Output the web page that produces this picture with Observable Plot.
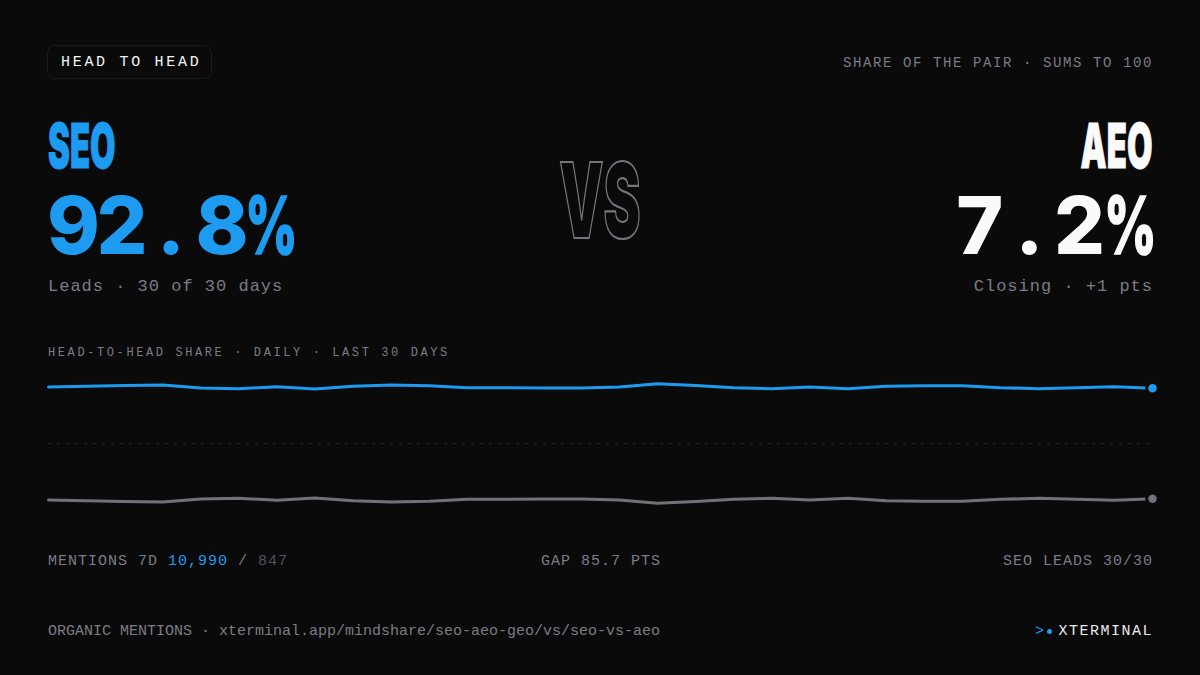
<!DOCTYPE html>
<html><head><meta charset="utf-8">
<script src="https://cdn.jsdelivr.net/npm/d3@7"></script>
<script src="https://cdn.jsdelivr.net/npm/@observablehq/plot@0.6"></script>
<style>
html,body{margin:0;padding:0;background:#0a0a0b;}
#page{position:relative;width:1200px;height:675px;overflow:hidden;background:#0a0a0b;font-family:"Liberation Mono",monospace;color:#7c7c84;}
.t{position:absolute;white-space:pre;line-height:1;}
.r{text-align:right;}
.disp{font-family:Inter,sans-serif;font-weight:900;}
.big{font-family:Inter,sans-serif;font-weight:800;font-size:80px;}
.big span{display:inline-block;width:49.5px;text-align:center;}
.big span.p{width:74px;margin-right:-24.5px;text-align:left;transform:scaleX(.64);transform-origin:0 50%;-webkit-text-stroke:1.6px currentColor;}
#chart{position:absolute;left:40px;top:368px;}
#chart svg{background:transparent;display:block;}
</style></head><body>
<div id="page">
  <div style="position:absolute;left:47px;top:45px;width:163px;height:32px;border:1.5px solid #1b1b1e;border-radius:8px;"></div>
  <div class="t" style="left:61px;top:55px;font-size:15px;letter-spacing:2.7px;color:#f5f5f5;">HEAD TO HEAD</div>
  <div class="t r" style="right:47px;top:56px;font-size:14px;letter-spacing:1.6px;">SHARE OF THE PAIR · SUMS TO 100</div>

  <div class="t disp" style="left:48px;top:115px;font-size:62px;color:#1d9bf0;transform:scaleX(.53);transform-origin:0 0;-webkit-text-stroke:1px #1d9bf0;">SEO</div>
  <div class="t big" style="left:47px;top:185px;color:#1d9bf0;"><span>9</span><span>2</span><span>.</span><span>8</span><span class="p">%</span></div>
  <div class="t" style="left:48px;top:278px;font-size:17px;letter-spacing:1px;">Leads · 30 of 30 days</div>

  <div class="t disp" style="left:600px;top:147px;font-size:105px;color:transparent;-webkit-text-stroke:2.2px #74777e;transform:translateX(-50%) scaleX(.53);">VS</div>

  <div class="t disp r" style="right:48px;top:115px;font-size:62px;color:#fafafa;transform:scaleX(.53);transform-origin:100% 0;-webkit-text-stroke:1px #fafafa;">AEO</div>
  <div class="t big r" style="right:47px;top:185px;color:#fafafa;"><span>7</span><span>.</span><span>2</span><span class="p">%</span></div>
  <div class="t r" style="right:47px;top:278px;font-size:17px;letter-spacing:1px;">Closing · +1 pts</div>

  <div class="t" style="left:48px;top:347px;font-size:12px;letter-spacing:2.6px;">HEAD-TO-HEAD SHARE · DAILY · LAST 30 DAYS</div>
  <div id="chart"></div>

  <div class="t" style="left:48px;top:554px;font-size:15px;letter-spacing:1px;">MENTIONS 7D <span style="color:#1d9bf0">10,990</span> / <span style="color:#52525b">847</span></div>
  <div class="t" style="left:541px;top:554px;font-size:15px;letter-spacing:1px;">GAP 85.7 PTS</div>
  <div class="t r" style="right:47px;top:554px;font-size:15px;letter-spacing:1px;">SEO LEADS 30/30</div>

  <div class="t" style="left:48px;top:624px;font-size:15px;">ORGANIC MENTIONS · xterminal.app/mindshare/seo-aeo-geo/vs/seo-vs-aeo</div>
  <div class="t" style="left:1035px;top:624px;font-size:15px;color:#1d9bf0;">&gt;</div>
  <div style="position:absolute;left:1047px;top:629px;width:5px;height:5px;border-radius:50%;background:#1d9bf0;"></div>
  <div class="t r" style="right:47px;top:624px;font-size:15px;letter-spacing:1.5px;color:#e8e8ea;">XTERMINAL</div>
</div>
<script>
const days = d3.range(1, 31);
const seoShare = [93.8,94.3,95.0,95.4,93.0,92.5,94.0,92.3,94.3,95.4,94.8,93.3,93.3,93.0,93.0,93.8,96.4,95.0,93.3,92.5,93.8,92.5,94.3,94.8,94.8,93.3,92.5,93.3,94.0,92.8];
const aeoShare = [6.2,5.7,5.0,4.6,7.0,7.5,6.0,7.7,5.7,4.6,5.2,6.7,6.7,7.0,7.0,6.2,3.6,5.0,6.7,7.5,6.2,7.5,5.7,5.2,5.2,6.7,7.5,6.7,6.0,7.2];
const midline = [50];
const blue = "#1d9bf0", grey = "#71717a", bg = "#0a0a0b";
const seoRows = days.map((d, i) => ({day: d, share: seoShare[i]}));
const aeoRows = days.map((d, i) => ({day: d, share: aeoShare[i]}));
const chart = Plot.plot({
  width: 1120, height: 150,
  marginLeft: 8, marginRight: 8, marginTop: 10.5, marginBottom: 10.5,
  x: {domain: [1, 30], axis: null},
  y: {domain: [0, 100], axis: null},
  style: {background: "transparent", overflow: "visible"},
  marks: [
    Plot.ruleY(midline, {stroke: "#232326", strokeWidth: 1, strokeDasharray: "3 6"}),
    Plot.line(aeoRows, {x: "day", y: "share", stroke: grey, strokeWidth: 3, curve: "linear"}),
    Plot.line(seoRows, {x: "day", y: "share", stroke: blue, strokeWidth: 3, curve: "linear"}),
    Plot.dot(aeoRows.slice(-1), {x: "day", y: "share", r: 5.8, fill: grey, stroke: bg, strokeWidth: 3}),
    Plot.dot(seoRows.slice(-1), {x: "day", y: "share", r: 5.8, fill: blue, stroke: bg, strokeWidth: 3})
  ]
});
document.getElementById("chart").appendChild(chart);
</script>
</body></html>
